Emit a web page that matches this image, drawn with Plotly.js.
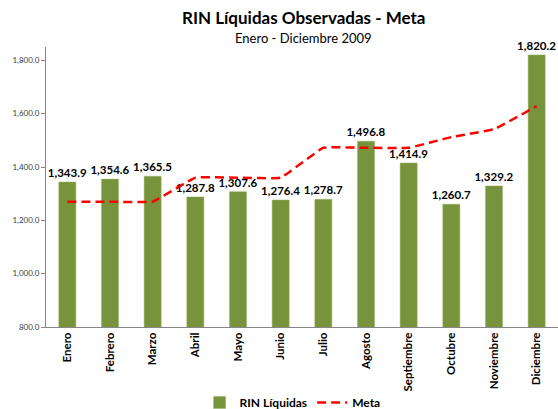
<!DOCTYPE html>
<html>
<head>
<meta charset="utf-8">
<script src="https://cdn.plot.ly/plotly-3.0.1.min.js"></script>
<style>
  html, body { margin: 0; padding: 0; background: #fff; }
  #chart { width: 558px; height: 409px; }
</style>
</head>
<body>
<div id="chart"></div>
<script>
const MONTHS = ["Enero", "Febrero", "Marzo", "Abril", "Mayo", "Junio", "Julio",
  "Agosto", "Septiembre", "Octubre", "Noviembre", "Diciembre"];
const RIN = [1343.9, 1354.6, 1365.5, 1287.8, 1307.6, 1276.4, 1278.7,
  1496.8, 1414.9, 1260.7, 1329.2, 1820.2];
const META = [1270, 1270, 1270, 1360, 1360, 1360, 1472, 1472, 1472, 1512, 1542, 1628];
const Y_TICKS = [800, 1000, 1200, 1400, 1600, 1800];

const FONT = "Lato, 'Open Sans', sans-serif";

const rinTrace = {
  type: "bar",
  name: "RIN Líquidas",
  x: MONTHS,
  y: RIN,
  marker: { color: "#77933C", line: { width: 0.5, color: "#9BB463" } },
  texttemplate: "%{y:,.1f}",
  textposition: "outside",
  textfont: { family: FONT, size: 11.5, color: "#000000", weight: "bold" },
  constraintext: "none",
  cliponaxis: false,
  hoverinfo: "skip",
};

const metaTrace = {
  type: "scatter",
  mode: "lines",
  name: "Meta",
  x: MONTHS,
  y: META,
  line: { color: "#FF0000", width: 2.5, dash: "9px,5px", shape: "spline", smoothing: 0.25 },
  cliponaxis: false,
  hoverinfo: "skip",
};

const layout = {
  width: 558,
  height: 409,
  paper_bgcolor: "#ffffff",
  plot_bgcolor: "#ffffff",
  font: { family: FONT, color: "#000000" },
  margin: { l: 46, r: 0, t: 47, b: 82, autoexpand: false },
  bargap: 0.6,
  showlegend: true,
  legend: {
    orientation: "h",
    x: 0.3,
    xanchor: "left",
    y: -0.27,
    yanchor: "middle",
    font: { family: FONT, size: 12, color: "#000000", weight: "bold" },
    traceorder: "normal",
    itemwidth: 30,
  },
  annotations: [
    {
      text: "<b>RIN Líquidas Observadas - Meta</b>",
      xref: "paper", yref: "paper",
      x: 0.503, y: 1.107,
      xanchor: "center", yanchor: "middle",
      showarrow: false,
      font: { family: FONT, size: 17, color: "#000000" },
    },
    {
      text: "Enero - Diciembre 2009",
      xref: "paper", yref: "paper",
      x: 0.503, y: 1.032,
      xanchor: "center", yanchor: "middle",
      showarrow: false,
      font: { family: FONT, size: 13, color: "#000000" },
    },
  ],
  xaxis: {
    type: "category",
    automargin: false,
    tickangle: -90,
    tickfont: { family: FONT, size: 11.5, color: "#000000", weight: "bold" },
    showline: true,
    linecolor: "#868686",
    linewidth: 1,
    ticks: "",
    showgrid: false,
    zeroline: false,
  },
  yaxis: {
    range: [800, 1850],
    automargin: false,
    tickvals: Y_TICKS,
    tickformat: ",.1f",
    tickfont: { family: FONT, size: 8, color: "#404040" },
    showline: true,
    linecolor: "#868686",
    linewidth: 1,
    ticks: "outside",
    ticklen: 4,
    tickcolor: "#868686",
    showgrid: false,
    zeroline: false,
  },
};

Plotly.newPlot("chart", [rinTrace, metaTrace], layout, {
  displayModeBar: false,
  staticPlot: true,
});
</script>
</body>
</html>
